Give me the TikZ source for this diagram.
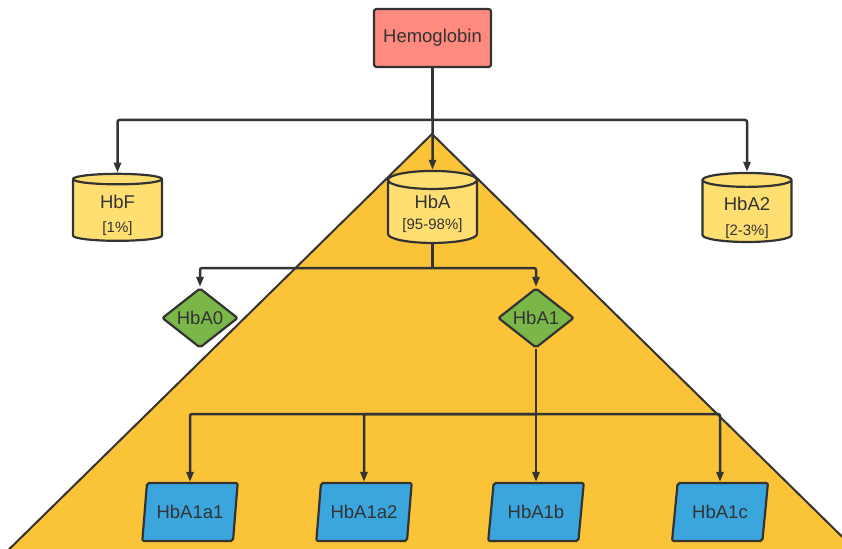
\documentclass[tikz,border=0pt]{standalone}
\usepackage{fontspec}
\setmainfont{Liberation Sans}
\usepackage{tikz}
\usetikzlibrary{shapes.geometric,arrows.meta}
\definecolor{edgegray}{HTML}{333333}
\definecolor{hemored}{HTML}{FF8A80}
\definecolor{tankyellow}{HTML}{FFDF71}
\definecolor{pyramidgold}{HTML}{FBC338}
\definecolor{leafgreen}{HTML}{7AB648}
\definecolor{skyblue}{HTML}{3AA6DD}
\tikzset{
base/.style={
	draw=edgegray,
	text=edgegray,
	line width=2.2pt,
	inner sep=0pt,
	align=center,
	font=\fontsize{18.5}{21}\selectfont
}
}
\tikzset{
hemobox/.style={
	base,
	rectangle,
	rounded corners=2.5pt,
	fill=hemored,
	minimum width=117pt,
	minimum height=58pt
}
}
\tikzset{
tank/.style={
	base,
	cylinder,
	shape border rotate=90,
	aspect=0.3,
	fill=tankyellow,
	minimum width=89pt
}
}
\tikzset{
chain/.style={
	base,
	diamond,
	rounded corners=2pt,
	fill=leafgreen,
	minimum width=76pt,
	minimum height=57pt
}
}
\tikzset{
variant/.style={
	base,
	trapezium,
	trapezium left angle=75,
	trapezium right angle=105,
	trapezium stretches=true,
	rounded corners=2pt,
	fill=skyblue,
	minimum width=96pt,
	minimum height=58pt
}
}
\tikzset{
link/.style={
	draw=edgegray,
	line width=2.5pt,
	rounded corners=2pt,
	-{Triangle[length=10pt,width=7pt]}
}
}
% name, share, gap, drop
\newcommand{\tanktext}[4]{\raisebox{-#4}[\height][\depth]{\begin{tabular}{@{}c@{}}#1\\[#3]{\fontsize{15}{16}\selectfont #2}\end{tabular}}}

\begin{document}
\begin{tikzpicture}[x=1pt,y=-1pt]
		\useasboundingbox (0,0) rectangle (842,548);
		\clip (0,0) rectangle (842,548);
		\fill[pyramidgold,draw=edgegray,line width=2pt] (432,134) -- (-10,568) -- (874,568) -- cycle;
		% nodes
		\node[hemobox] (hemo) at (432.5,38) {Hemoglobin};
		\node[tank,minimum height=67pt] (hbf) at (117.5,210.5) {\tanktext{HbF}{[1\%]}{3pt}{5.5pt}};
		\node[tank,minimum height=72pt] (hba) at (432.5,212) {\tanktext{HbA}{[95-98\%]}{0pt}{3pt}};
		\node[tank,minimum height=69pt] (hba2) at (747,211.5) {\tanktext{HbA2}{[2-3\%]}{4pt}{7pt}};
		\node[chain] (hba0) at (200,318) {HbA0};
		\node[chain] (hba1) at (536,318) {HbA1};
		\node[variant] (a1a1) at (190,512) {HbA1a1};
		\node[variant] (a1a2) at (364,512) {HbA1a2};
		\node[variant] (a1b) at (536,512) {HbA1b};
		\node[variant] (a1c) at (720,512) {HbA1c};
		% connectors
		\coordinate (bus1) at (432.5,120);
		\coordinate (bus2) at (432.5,268);
		\coordinate (bus3) at (536,414);
		\draw[link,-] (hemo) -- (bus1);
		\draw[link] (bus1) -| (hbf);
		\draw[link] (bus1) -- (hba);
		\draw[link] (bus1) -| (hba2);
		\draw[link,-] (hba) -- (bus2);
		\draw[link] (bus2) -| (hba0);
		\draw[link] (bus2) -| (hba1);
		\draw[link,-] (hba1) -- (bus3);
		\draw[link] (bus3) -| (a1a1);
		\draw[link] (bus3) -| (a1a2);
		\draw[link] (bus3) -- (a1b);
		\draw[link] (bus3) -| (a1c);
\end{tikzpicture}
\end{document}
